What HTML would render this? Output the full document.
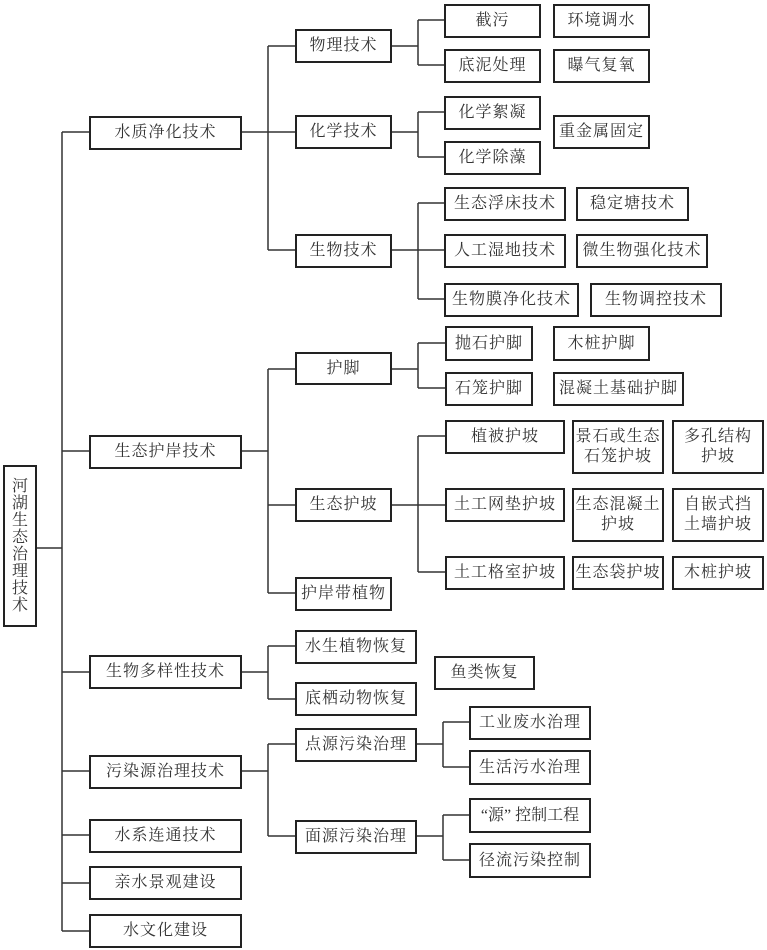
<!DOCTYPE html>
<html><head><meta charset="utf-8"><style>
html,body{margin:0;padding:0;background:#fff;}
#c{position:relative;width:767px;height:950px;overflow:hidden;font-family:"Liberation Serif","Noto Serif CJK SC","Noto Sans CJK SC",serif;color:#333;}
.b{position:absolute;box-sizing:border-box;border:2px solid #222;background:#fff;display:flex;align-items:center;justify-content:center;text-align:center;font-size:16px;letter-spacing:1px;line-height:20px;white-space:nowrap;}
svg{position:absolute;left:0;top:0;}
</style></head><body><div id="c">
<svg width="767" height="950" stroke="#333" stroke-width="1.5" fill="none">
<path d="M36 548H62 M62 132V931 M62 132H89 M62 451H89 M62 672H89 M62 771H89 M62 835H89 M62 883H89 M62 931H89"/>
<path d="M241 132H268 M268 46V250 M268 46H295 M268 132H295 M268 250H295"/>
<path d="M391 46H418 M418 20V65 M418 20H444 M418 65H444"/>
<path d="M391 132H418 M418 112V157 M418 112H444 M418 157H444"/>
<path d="M391 250H418 M418 203V299 M418 203H444 M418 250H444 M418 299H444"/>
<path d="M241 451H268 M268 369V593 M268 369H295 M268 505H295 M268 593H295"/>
<path d="M391 369H418 M418 343V388 M418 343H445 M418 388H445"/>
<path d="M391 505H418 M418 436V572 M418 436H445 M418 505H445 M418 572H445"/>
<path d="M241 672H268 M268 646V699 M268 646H295 M268 699H295"/>
<path d="M241 771H268 M268 744V836 M268 744H295 M268 836H295"/>
<path d="M416 744H443 M443 722V767 M443 722H469 M443 767H469"/>
<path d="M416 836H443 M443 815V860 M443 815H469 M443 860H469"/>
</svg>
<div class="b" style="left:3px;top:465px;width:34px;height:162px;line-height:17px;letter-spacing:0;">河<br>湖<br>生<br>态<br>治<br>理<br>技<br>术</div>

<div class="b" style="left:89px;top:116px;width:153px;height:34px;">水质净化技术</div>
<div class="b" style="left:89px;top:435px;width:153px;height:34px;">生态护岸技术</div>
<div class="b" style="left:89px;top:655px;width:153px;height:34px;">生物多样性技术</div>
<div class="b" style="left:89px;top:755px;width:153px;height:34px;">污染源治理技术</div>
<div class="b" style="left:89px;top:819px;width:153px;height:34px;">水系连通技术</div>
<div class="b" style="left:89px;top:866px;width:153px;height:34px;">亲水景观建设</div>
<div class="b" style="left:89px;top:914px;width:153px;height:34px;">水文化建设</div>

<div class="b" style="left:295px;top:29px;width:97px;height:34px;">物理技术</div>
<div class="b" style="left:295px;top:115px;width:97px;height:34px;">化学技术</div>
<div class="b" style="left:295px;top:234px;width:97px;height:34px;">生物技术</div>
<div class="b" style="left:295px;top:352px;width:97px;height:33px;">护脚</div>
<div class="b" style="left:295px;top:488px;width:97px;height:34px;">生态护坡</div>
<div class="b" style="left:295px;top:577px;width:97px;height:34px;">护岸带植物</div>
<div class="b" style="left:295px;top:630px;width:122px;height:34px;">水生植物恢复</div>
<div class="b" style="left:295px;top:682px;width:122px;height:34px;">底栖动物恢复</div>
<div class="b" style="left:295px;top:728px;width:122px;height:34px;">点源污染治理</div>
<div class="b" style="left:295px;top:820px;width:122px;height:34px;">面源污染治理</div>

<div class="b" style="left:444px;top:4px;width:97px;height:34px;">截污</div>
<div class="b" style="left:553px;top:4px;width:97px;height:34px;">环境调水</div>
<div class="b" style="left:444px;top:49px;width:97px;height:34px;">底泥处理</div>
<div class="b" style="left:553px;top:49px;width:97px;height:34px;">曝气复氧</div>
<div class="b" style="left:444px;top:96px;width:97px;height:34px;">化学絮凝</div>
<div class="b" style="left:444px;top:141px;width:97px;height:34px;">化学除藻</div>
<div class="b" style="left:553px;top:115px;width:97px;height:34px;">重金属固定</div>
<div class="b" style="left:444px;top:187px;width:122px;height:34px;">生态浮床技术</div>
<div class="b" style="left:576px;top:187px;width:113px;height:34px;">稳定塘技术</div>
<div class="b" style="left:444px;top:234px;width:122px;height:34px;">人工湿地技术</div>
<div class="b" style="left:576px;top:234px;width:132px;height:34px;">微生物强化技术</div>
<div class="b" style="left:444px;top:283px;width:135px;height:34px;">生物膜净化技术</div>
<div class="b" style="left:590px;top:283px;width:132px;height:34px;">生物调控技术</div>

<div class="b" style="left:445px;top:326px;width:88px;height:35px;">抛石护脚</div>
<div class="b" style="left:553px;top:326px;width:97px;height:35px;">木桩护脚</div>
<div class="b" style="left:445px;top:372px;width:88px;height:34px;">石笼护脚</div>
<div class="b" style="left:553px;top:372px;width:131px;height:34px;">混凝土基础护脚</div>
<div class="b" style="left:445px;top:420px;width:120px;height:34px;">植被护坡</div>
<div class="b" style="left:572px;top:420px;width:92px;height:54px;">景石或生态<br>石笼护坡</div>
<div class="b" style="left:672px;top:420px;width:92px;height:54px;">多孔结构<br>护坡</div>
<div class="b" style="left:445px;top:488px;width:120px;height:34px;">土工网垫护坡</div>
<div class="b" style="left:572px;top:488px;width:92px;height:54px;">生态混凝土<br>护坡</div>
<div class="b" style="left:672px;top:488px;width:92px;height:54px;">自嵌式挡<br>土墙护坡</div>
<div class="b" style="left:445px;top:556px;width:120px;height:34px;">土工格室护坡</div>
<div class="b" style="left:572px;top:556px;width:92px;height:34px;">生态袋护坡</div>
<div class="b" style="left:672px;top:556px;width:92px;height:34px;">木桩护坡</div>

<div class="b" style="left:434px;top:656px;width:101px;height:34px;">鱼类恢复</div>
<div class="b" style="left:469px;top:706px;width:122px;height:34px;">工业废水治理</div>
<div class="b" style="left:469px;top:750px;width:122px;height:35px;">生活污水治理</div>
<div class="b" style="left:469px;top:798px;width:122px;height:35px;letter-spacing:0;">“源” 控制工程</div>
<div class="b" style="left:469px;top:843px;width:122px;height:35px;">径流污染控制</div>
</div></body></html>
